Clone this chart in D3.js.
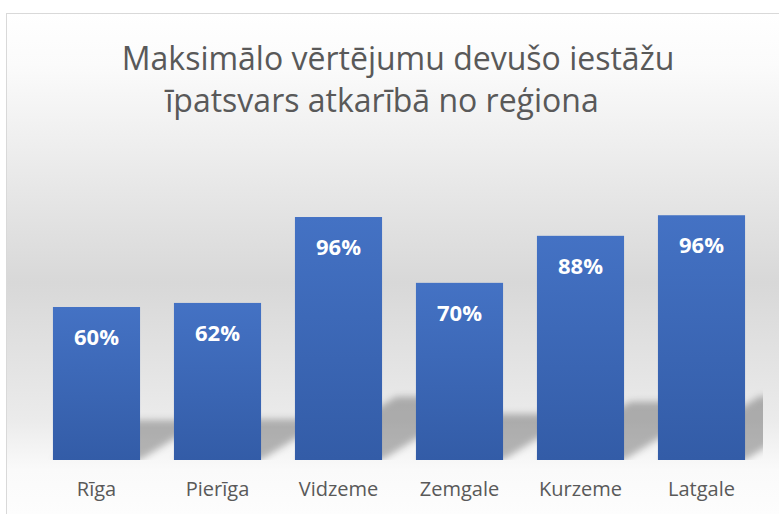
<!DOCTYPE html>
<html>
<head>
<meta charset="utf-8">
<script src="https://cdn.jsdelivr.net/npm/d3@7"></script>
<style>
  html, body { margin: 0; padding: 0; background: #fff; }
  svg { display: block; }
</style>
</head>
<body>
<svg id="chart"></svg>
<script>
const regions = ['Rīga', 'Pierīga', 'Vidzeme', 'Zemgale', 'Kurzeme', 'Latgale'];
const shares = [0.602, 0.618, 0.956, 0.697, 0.882, 0.963];
const titleLines = ['Maksimālo vērtējumu devušo iestāžu', 'īpatsvars atkarībā no reģiona'];

const W = 779, H = 514;
const plot = {left: 36, right: 762, top: 155, bottom: 460};

const data = regions.map((r, i) => ({region: r, value: shares[i]}));

const svg = d3.select('#chart')
    .attr('width', W)
    .attr('height', H);

const defs = svg.append('defs');

// chart area background: white at the top, grey in the middle, light at the floor
const bg = defs.append('linearGradient')
    .attr('id', 'bgGrad')
    .attr('gradientUnits', 'userSpaceOnUse')
    .attr('x1', 0).attr('y1', 13).attr('x2', 0).attr('y2', 514);
[[13, '#ffffff'], [65, '#fbfbfb'], [283, '#d8d8d8'], [420, '#ebebeb'], [470, '#fafafa'], [514, '#fdfdfd']]
  .forEach(([y, c]) => bg.append('stop')
    .attr('offset', ((y - 13) / 501 * 100) + '%')
    .attr('stop-color', c));

const barGrad = defs.append('linearGradient')
    .attr('id', 'barGrad')
    .attr('x1', 0).attr('y1', 0).attr('x2', 0).attr('y2', 1);
barGrad.append('stop').attr('offset', '0%').attr('stop-color', '#4472c4');
barGrad.append('stop').attr('offset', '100%').attr('stop-color', '#335ca7');

defs.append('filter')
    .attr('id', 'blur')
    .attr('x', '-30%').attr('y', '-30%').attr('width', '160%').attr('height', '160%')
  .append('feGaussianBlur')
    .attr('stdDeviation', 3.5);

defs.append('clipPath')
    .attr('id', 'plotClip')
  .append('rect')
    .attr('x', plot.left).attr('y', 0)
    .attr('width', plot.right + 1 - plot.left).attr('height', plot.bottom);

svg.append('rect')
    .attr('x', 6.5).attr('y', 13.5)
    .attr('width', W + 20).attr('height', H + 20)
    .attr('fill', 'url(#bgGrad)')
    .attr('stroke', '#d9d9d9')
    .attr('stroke-width', 1);

// title
svg.append('g')
    .attr('font-family', '"Open Sans", sans-serif')
    .attr('font-size', 32)
    .attr('fill', '#595959')
    .attr('text-anchor', 'middle')
  .selectAll('text')
  .data(titleLines)
  .enter().append('text')
    .attr('x', (d, i) => i === 0 ? 398 : 382)
    .attr('y', (d, i) => 70 + i * 42)
    .text(d => d);

const x = d3.scaleBand()
    .domain(regions)
    .range([plot.left, plot.right])
    .paddingInner(0.28)
    .paddingOuter(0.14);

const y = d3.scaleLinear()
    .domain([0, 1.2])
    .range([plot.bottom, plot.top]);

// perspective shadows behind the bars
const k = 0.26, skew = 1.6;
svg.append('g')
    .attr('clip-path', 'url(#plotClip)')
  .append('g')
    .attr('filter', 'url(#blur)')
  .selectAll('path')
  .data(data)
  .enter().append('path')
    .attr('d', d => {
      const x0 = x(d.region), x1 = x0 + x.bandwidth();
      const h = (plot.bottom - y(d.value)) * k;
      const s = h * skew;
      return 'M' + x0 + ',' + plot.bottom + 'L' + x1 + ',' + plot.bottom +
             'L' + (x1 + s) + ',' + (plot.bottom - h) + 'L' + (x0 + s) + ',' + (plot.bottom - h) + 'Z';
    })
    .attr('fill', '#000')
    .attr('fill-opacity', 0.27);

svg.append('g')
  .selectAll('rect')
  .data(data)
  .enter().append('rect')
    .attr('x', d => x(d.region))
    .attr('y', d => y(d.value))
    .attr('width', x.bandwidth())
    .attr('height', d => plot.bottom - y(d.value))
    .attr('fill', 'url(#barGrad)');

// data labels
const fmt = d3.format('.0%');
svg.append('g')
    .attr('font-family', '"Open Sans", sans-serif')
    .attr('font-weight', 'bold')
    .attr('font-size', 22)
    .attr('fill', '#ffffff')
    .attr('text-anchor', 'middle')
  .selectAll('text')
  .data(data)
  .enter().append('text')
    .attr('x', d => x(d.region) + x.bandwidth() / 2)
    .attr('y', d => y(d.value) + 38)
    .text(d => fmt(d.value));

// category axis
const xAxis = d3.axisBottom(x).tickSize(0).tickPadding(22);
const gx = svg.append('g')
    .attr('transform', 'translate(0,' + plot.bottom + ')')
    .call(xAxis);
gx.select('.domain').remove();
gx.selectAll('.tick text')
    .attr('font-family', '"Open Sans", sans-serif')
    .attr('font-size', 20)
    .attr('fill', '#595959');
</script>
</body>
</html>
